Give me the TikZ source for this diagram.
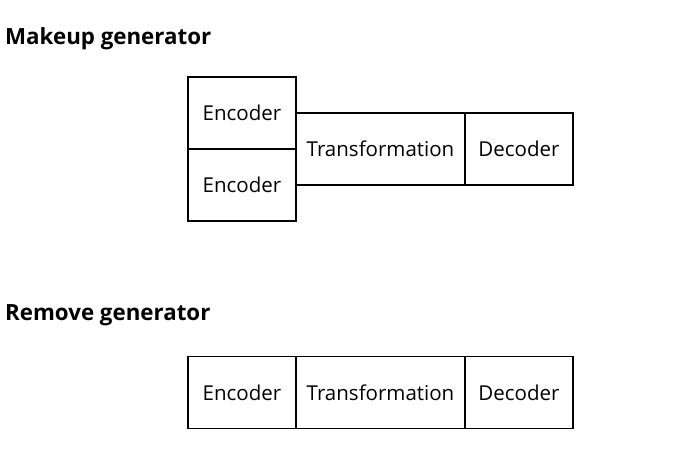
\documentclass[tikz,border=0pt]{standalone}
\usepackage{fontspec}
\setmainfont{Open Sans}
\usetikzlibrary{positioning}

\begin{document}
\begin{tikzpicture}[
    x=1pt, y=-1pt,
    node distance=0pt,
    box/.style={draw, line width=1.6pt, outer sep=0pt, minimum height=72pt, inner sep=0pt, align=center, font=\fontsize{20.5}{24}\selectfont},
    enc/.style={box, minimum width=108pt},
    trans/.style={box, minimum width=169pt},
    dec/.style={box, minimum width=108pt},
    title/.style={anchor=base west, inner sep=0pt, font=\fontsize{22.3}{26}\selectfont\bfseries}
  ]
  \useasboundingbox (0,0) rectangle (681,462);

  % Makeup generator
  \node[title] (makeup) at (5,45) {Makeup generator};
  \node[enc] (enc_a) at (242,113) {Encoder};
  \node[enc, below=of enc_a] (enc_b) {Encoder};
  \node[trans, anchor=west] (trans_a) at (enc_a.south east) {Transformation};
  \node[dec, right=of trans_a] (dec_a) {Decoder};

  % Remove generator
  \node[title] (remove) at (5,321) {Remove generator};
  \node[enc] (enc_r) at (242,392.5) {Encoder};
  \node[trans, right=of enc_r] (trans_r) {Transformation};
  \node[dec, right=of trans_r] (dec_r) {Decoder};

\end{tikzpicture}
\end{document}
